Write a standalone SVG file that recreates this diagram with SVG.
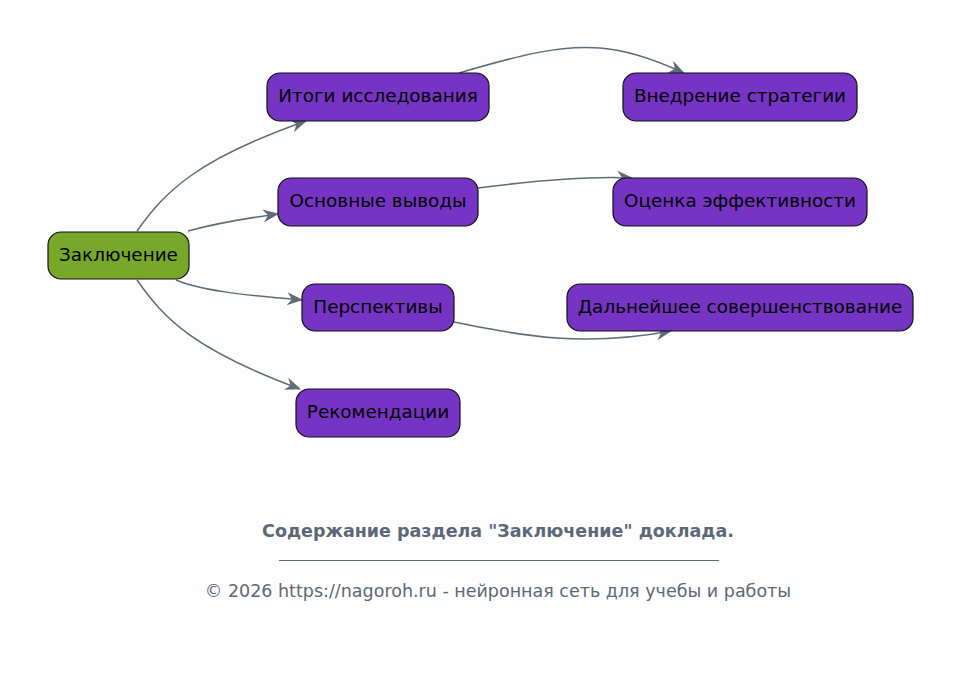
<svg xmlns="http://www.w3.org/2000/svg" width="961" height="676" viewBox="0 0 961 676">
<style>
.n rect{stroke:#111;stroke-width:1.2}
.p rect{fill:#7634c4}
.g rect{fill:#78a82a}
.n text{font-family:"DejaVu Sans",sans-serif;font-size:18.4px;fill:#000;text-anchor:middle;dominant-baseline:central}
.e path{fill:none;stroke:#5f6b78;stroke-width:1.5;marker-end:url(#a)}
.cap{font-family:"DejaVu Sans",sans-serif;fill:#5b6878;text-anchor:middle}
</style>
<defs>
<marker id="a" viewBox="0 0 16 14" refX="15" refY="7" markerWidth="16" markerHeight="14" markerUnits="userSpaceOnUse" orient="auto">
<path d="M0,0.5 L16,7 L0,13.5 L5,7 z" fill="#5f6b78"/>
</marker>
</defs>
<rect width="961" height="676" fill="#fdfdfd"/>
<g id="edges" class="e">
<path d="M137,231 C165,192 195,160 306,121"/>
<path d="M188,231 C210,225 240,219 278,214"/>
<path d="M176,280 C200,290 240,295 302,300"/>
<path d="M137,280 C165,320 195,350 300,389"/>
<path d="M459,73 C520,55 560,45 600,48 C630,50 660,62 684,73"/>
<path d="M478,188 C540,180 590,176 632,178"/>
<path d="M454,322 C520,335 580,348 671,331"/>
</g>
<g id="n0" class="n g"><rect x="48" y="232" width="141" height="47" rx="13"/><text x="118.5" y="254">Заключение</text></g>
<g id="n1" class="n p"><rect x="267" y="73" width="222" height="48" rx="13"/><text x="378" y="95.5">Итоги исследования</text></g>
<g id="n2" class="n p"><rect x="278" y="178" width="200" height="48" rx="13"/><text x="378" y="200.5">Основные выводы</text></g>
<g id="n3" class="n p"><rect x="302" y="284" width="152" height="47" rx="13"/><text x="378" y="306">Перспективы</text></g>
<g id="n4" class="n p"><rect x="296" y="389" width="164" height="48" rx="13"/><text x="378" y="411.5">Рекомендации</text></g>
<g id="n5" class="n p"><rect x="623" y="73" width="234" height="48" rx="13"/><text x="740" y="95.5">Внедрение стратегии</text></g>
<g id="n6" class="n p"><rect x="613" y="178" width="254" height="48" rx="13"/><text x="740" y="200.5">Оценка эффективности</text></g>
<g id="n7" class="n p"><rect x="567" y="284" width="346" height="47" rx="13"/><text x="740" y="306">Дальнейшее совершенствование</text></g>
<text class="cap" x="498" y="537" font-size="17.5" font-weight="bold">Содержание раздела "Заключение" доклада.</text>
<line x1="279" y1="560.5" x2="719" y2="560.5" stroke="#5b6878" stroke-width="1"/>
<text class="cap" x="498" y="597" font-size="17.5">© 2026 https://nagoroh.ru - нейронная сеть для учебы и работы</text>
</svg>
